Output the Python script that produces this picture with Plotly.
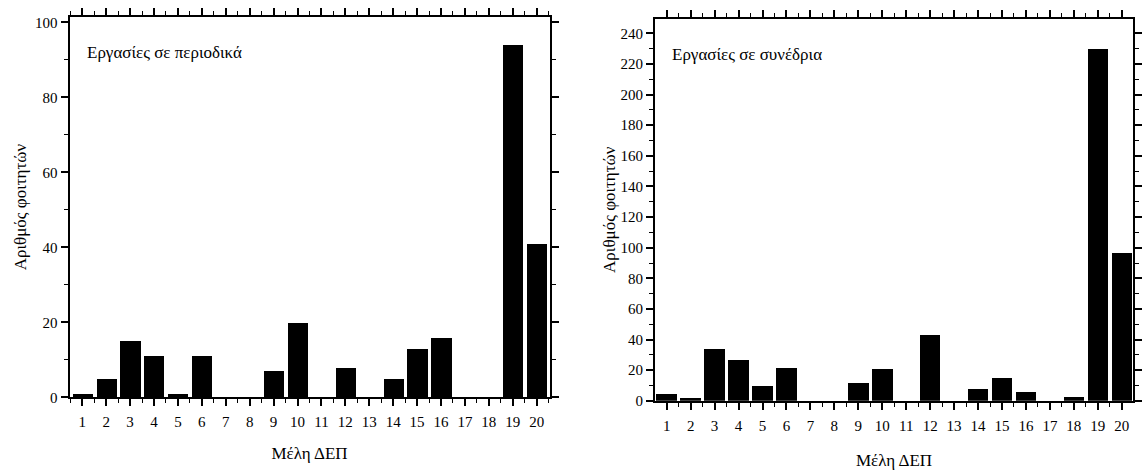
import plotly.graph_objects as go

# Members of the faculty (ΔΕΠ), 1..20
members = list(range(1, 21))

# Papers in journals per faculty member
journal_papers = [1, 5, 15, 11, 1, 11, 0, 0, 7, 20, 0, 8, 0, 5, 13, 16, 0, 0, 94, 41]

# Papers in conferences per faculty member
conference_papers = [5, 2, 34, 27, 10, 22, 0, 0, 12, 21, 0, 43, 0, 8, 15, 6, 0, 3, 230, 97]

W, H = 1142, 470
FONT = "Liberation Serif"


def px_x(v):
    return v / W


def px_y(v):
    return 1 - v / H


fig = go.Figure()

fig.add_trace(go.Bar(x=members, y=journal_papers, width=0.84,
                     marker=dict(color="black", line=dict(width=0)),
                     xaxis="x", yaxis="y", showlegend=False))
fig.add_trace(go.Bar(x=members, y=conference_papers, width=0.86,
                     marker=dict(color="black", line=dict(width=0)),
                     xaxis="x2", yaxis="y2", showlegend=False))

tickfont = dict(family=FONT, size=15, color="black")
titlefont = dict(family=FONT, size=17, color="black")


def xaxis_style(domain, rng, anchor, standoff):
    return dict(
        domain=domain, range=rng, anchor=anchor,
        tickmode="array", tickvals=members, ticktext=[str(m) for m in members],
        ticks="outside", ticklen=7, tickwidth=1.5, tickcolor="black",
        ticklabelstandoff=3,
        minor=dict(tickmode="linear", tick0=0.5, dtick=1, ticks="outside",
                   ticklen=4, tickwidth=1.2, tickcolor="black"),
        showline=True, linewidth=2, linecolor="black", mirror="allticks",
        showgrid=False, zeroline=False, tickfont=tickfont,
        title=dict(text="Μέλη ΔΕΠ", font=titlefont, standoff=standoff),
    )


def yaxis_style(domain, rng, anchor, dtick, minor_dtick, standoff):
    return dict(
        domain=domain, range=rng, anchor=anchor,
        tickmode="linear", tick0=0, dtick=dtick,
        ticks="outside", ticklen=7, tickwidth=1.5, tickcolor="black",
        minor=dict(tickmode="linear", tick0=0, dtick=minor_dtick, ticks="outside",
                   ticklen=4, tickwidth=1.2, tickcolor="black"),
        showline=True, linewidth=2, linecolor="black", mirror="allticks",
        showgrid=False, zeroline=False, tickfont=tickfont,
        title=dict(text="Αριθμός φοιτητών", font=titlefont, standoff=standoff),
    )


fig.update_layout(
    width=W, height=H,
    margin=dict(l=0, r=0, t=0, b=0),
    paper_bgcolor="white", plot_bgcolor="white",
    bargap=0,
    xaxis=xaxis_style([px_x(70), px_x(553)], [0.47, 20.54], "y", 18),
    yaxis=yaxis_style([px_y(404), px_y(15)], [0, 101.5], "x", 20, 10, 4),
    xaxis2=xaxis_style([px_x(659), px_x(1140)], [0.51, 20.47], "y2", 22),
    yaxis2=yaxis_style([px_y(407.5), px_y(17)], [0, 249.6], "x2", 20, 10, 0),
    annotations=[
        dict(text="Εργασίες σε περιοδικά", xref="paper", yref="paper",
             x=px_x(86), y=px_y(52), xanchor="left", yanchor="middle",
             showarrow=False, font=dict(family=FONT, size=17, color="black")),
        dict(text="Εργασίες σε συνέδρια", xref="paper", yref="paper",
             x=px_x(674), y=px_y(54), xanchor="left", yanchor="middle",
             showarrow=False, font=dict(family=FONT, size=17, color="black")),
    ],
)

fig.write_html("out.html")
